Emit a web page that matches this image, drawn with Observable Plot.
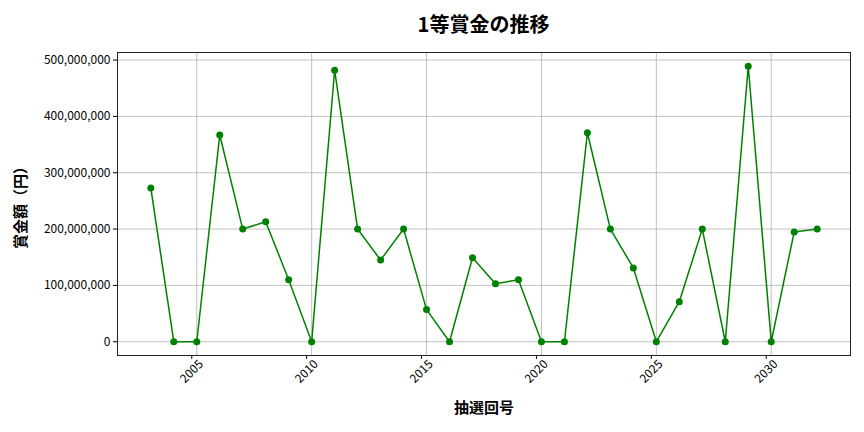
<!DOCTYPE html>
<html><head><meta charset="utf-8">
<script src="https://cdn.jsdelivr.net/npm/d3@7"></script>
<script src="https://cdn.jsdelivr.net/npm/@observablehq/plot@0.6"></script>
<style>
body{margin:0;background:#fff;font-family:"Noto Sans CJK JP",sans-serif;}
#title{height:45px;line-height:48px;text-align:center;font-size:20px;font-weight:bold;color:#000;padding-left:103px;box-sizing:border-box;}
</style></head><body>
<div id="title">1等賞金の推移</div>
<div id="chart"></div>
<script>
const draws = [2003,2004,2005,2006,2007,2008,2009,2010,2011,2012,2013,2014,2015,2016,2017,2018,2019,2020,2021,2022,2023,2024,2025,2026,2027,2028,2029,2030,2031,2032];
const prizes = [273e6,0,0,367e6,200e6,213e6,110e6,0,482e6,200e6,145e6,200e6,57e6,0,149e6,103e6,110e6,0,0,371e6,200e6,131e6,0,71e6,200e6,0,489e6,0,195e6,200e6];
const xTicks = [2005,2010,2015,2020,2025,2030];
const yTicks = [0,100e6,200e6,300e6,400e6,500e6];
const data = draws.map((d,i)=>({draw:d, prize:prizes[i]}));
const fmt = d3.format(",");
const chart = Plot.plot({
  width:864, height:387,
  marginTop:7, marginBottom:77, marginLeft:117, marginRight:14,
  style:{fontFamily:"Noto Sans CJK JP", fontSize:"12px", color:"#000", background:"#fff"},
  x:{domain:[2001.55,2033.45]},
  y:{domain:[-24.45e6,513.45e6]},
  marks:[
    Plot.gridX(xTicks,{stroke:"#b0b0b0", strokeOpacity:1, strokeWidth:0.8}),
    Plot.gridY(yTicks,{stroke:"#b0b0b0", strokeOpacity:1, strokeWidth:0.8}),
    Plot.axisY(yTicks,{tickFormat:fmt, tickSize:4, tickPadding:3, fontSize:12, label:null}),
    Plot.axisX(xTicks,{tickFormat:d=>String(d), tickSize:4, tickRotate:-45, textAnchor:"middle", tickPadding:12, dx:-5, fontSize:12, label:null}),
    Plot.text(["抽選回号"],{frameAnchor:"bottom", textAnchor:"middle", lineAnchor:"middle", dy:53, fontSize:15, fontWeight:"bold"}),
    Plot.text(["賞金額（円）"],{frameAnchor:"left", textAnchor:"middle", lineAnchor:"middle", dx:-96, rotate:-90, fontSize:15, fontWeight:"bold"}),
    Plot.frame({stroke:"#222", strokeWidth:1}),
    Plot.line(data,{x:"draw", y:"prize", stroke:"green", strokeWidth:1.5}),
    Plot.dot(data,{x:"draw", y:"prize", fill:"green", r:3.5})
  ]
});
document.getElementById("chart").appendChild(chart);
</script>
</body></html>
